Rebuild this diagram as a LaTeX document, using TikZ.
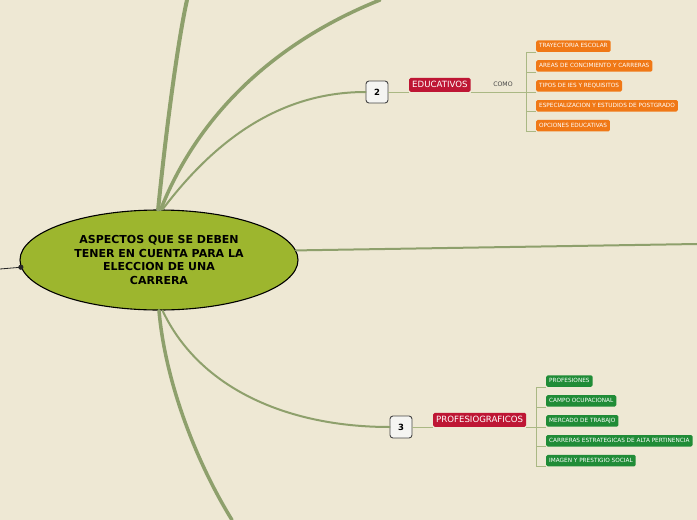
\documentclass[tikz,border=0pt]{standalone}
\usepackage{fontspec}
\setmainfont{DejaVu Sans}
\usetikzlibrary{positioning,shapes.geometric}

\begin{document}
\begin{tikzpicture}[x=1pt,y=-1pt,
    caja naranja/.style={fill=naranja, text=white, rounded corners=1.5pt,
      font=\fontsize{5.75}{6}\selectfont, inner xsep=3pt, inner ysep=3pt,
      text height=4.2pt, text depth=1.3pt},
    caja verde/.style={caja naranja, fill=verdecaja},
    tema/.style={fill=carmesi, text=white, rounded corners=1.5pt,
      font=\fontsize{8.6}{9}\selectfont, inner xsep=3pt, inner ysep=3pt,
      text height=6.3pt, text depth=1.7pt},
    numero/.style={draw=grisoscuro, fill=blancobox, line width=0.9pt,
      rounded corners=3pt, minimum size=22pt, inner sep=0pt,
      font=\fontsize{8.5}{8.5}\selectfont\bfseries},
    rama/.style={draw=verdeoliva, line cap=round},
    lista/.style={draw=verdelinea, line width=0.6pt}]
  % Definición de colores
  \definecolor{fondo}{RGB}{238,232,212}
  \definecolor{verdeoliva}{RGB}{142,160,108}
  \definecolor{verdelinea}{RGB}{170,184,132}
  \definecolor{elipse}{RGB}{157,182,46}
  \definecolor{carmesi}{RGB}{190,22,52}
  \definecolor{naranja}{RGB}{240,120,22}
  \definecolor{verdecaja}{RGB}{32,140,55}
  \definecolor{grisoscuro}{RGB}{70,70,70}
  \definecolor{blancobox}{RGB}{245,245,242}

  % Fondo
  \fill[fondo] (0,0) rectangle (697,520);
  \useasboundingbox (0,0) rectangle (697,520);

  % Nodo central
  \node[ellipse, draw=black, line width=1.1pt, fill=elipse, minimum width=278pt,
    minimum height=100pt, align=center,
    font=\fontsize{11}{13.5}\selectfont\bfseries] (aspectos) at (159,260)
    {ASPECTOS QUE SE DEBEN\\TENER EN CUENTA PARA LA\\ELECCION DE UNA\\CARRERA};

  % --- Rama 2 : EDUCATIVOS ---
  \node[numero] (dos) at (377,92) {2};
  \node[tema, anchor=south west] (educativos) at (409,92) {EDUCATIVOS};
  \node[font=\fontsize{6.2}{6.2}\selectfont, text=grisoscuro, anchor=south] (como) at (503,90.5) {COMO};
  \coordinate (llave2) at (526,92);

  \node[caja naranja, anchor=south west] (trayectoria) at (536,52) {TRAYECTORIA ESCOLAR};
  \node[caja naranja, below=8pt of trayectoria.south west, anchor=north west] (areas) {AREAS DE CONCIMIENTO Y CARRERAS};
  \node[caja naranja, below=8pt of areas.south west, anchor=north west] (tipos) {TIPOS DE IES Y REQUISITOS};
  \node[caja naranja, below=8pt of tipos.south west, anchor=north west] (especializacion) {ESPECIALIZACION Y ESTUDIOS DE POSTGRADO};
  \node[caja naranja, below=8pt of especializacion.south west, anchor=north west] (opciones) {OPCIONES EDUCATIVAS};

  \draw[lista] (dos.east) -- (educativos.south west);
  \draw[lista] (educativos.south east) -- (llave2);
  \draw[lista] (llave2 |- trayectoria.south west) -- (llave2 |- opciones.south west);
  \foreach \caja in {trayectoria,areas,tipos,especializacion,opciones}
    \draw[lista] (llave2 |- \caja.south west) -- (\caja.south west);

  % --- Rama 3 : PROFESIOGRAFICOS ---
  \node[numero] (tres) at (401,427) {3};
  \node[tema, anchor=south west] (profesiograficos) at (433,427) {PROFESIOGRAFICOS};
  \coordinate (llave3) at (536,427);

  \node[caja verde, anchor=south west] (profesiones) at (546,387) {PROFESIONES};
  \node[caja verde, below=8pt of profesiones.south west, anchor=north west] (campo) {CAMPO OCUPACIONAL};
  \node[caja verde, below=8pt of campo.south west, anchor=north west] (mercado) {MERCADO DE TRABAJO};
  \node[caja verde, below=8pt of mercado.south west, anchor=north west] (carreras) {CARRERAS ESTRATEGICAS DE ALTA PERTINENCIA};
  \node[caja verde, below=8pt of carreras.south west, anchor=north west] (imagen) {IMAGEN Y PRESTIGIO SOCIAL};

  \draw[lista] (tres.east) -- (profesiograficos.south west);
  \draw[lista] (profesiograficos.south east) -- (llave3);
  \draw[lista] (llave3 |- profesiones.south west) -- (llave3 |- imagen.south west);
  \foreach \caja in {profesiones,campo,mercado,carreras,imagen}
    \draw[lista] (llave3 |- \caja.south west) -- (\caja.south west);

  % --- Ramas que salen del nodo central ---
  \coordinate (arriba1) at (187,0);
  \coordinate (arriba2) at (380,0);
  \coordinate (derecha) at (697,244);
  \coordinate (abajo) at (232,520);
  \coordinate (izquierda) at (0,269);

  \draw[rama, line width=4pt] (aspectos.91) .. controls (166,130) and (178,40) .. (arriba1);
  \draw[rama, line width=3.5pt] (aspectos.88) .. controls (200,110) and (280,40) .. (arriba2);
  \draw[rama, line width=2pt] (aspectos.86) .. controls (215,140) and (280,92) .. (dos.west);
  \draw[rama, line width=2pt] (aspectos.4) -- (derecha);
  \draw[rama, line width=2pt] (aspectos.-86) .. controls (200,390) and (290,427) .. (tres.west);
  \draw[rama, line width=3.5pt] (aspectos.-90) .. controls (165,380) and (195,460) .. (abajo);

  % Conector hacia la izquierda
  \draw[black!85, line width=0.8pt] (izquierda) -- (aspectos.183);
  \fill[black!85] (aspectos.183) circle (2.6pt);
\end{tikzpicture}
\end{document}
